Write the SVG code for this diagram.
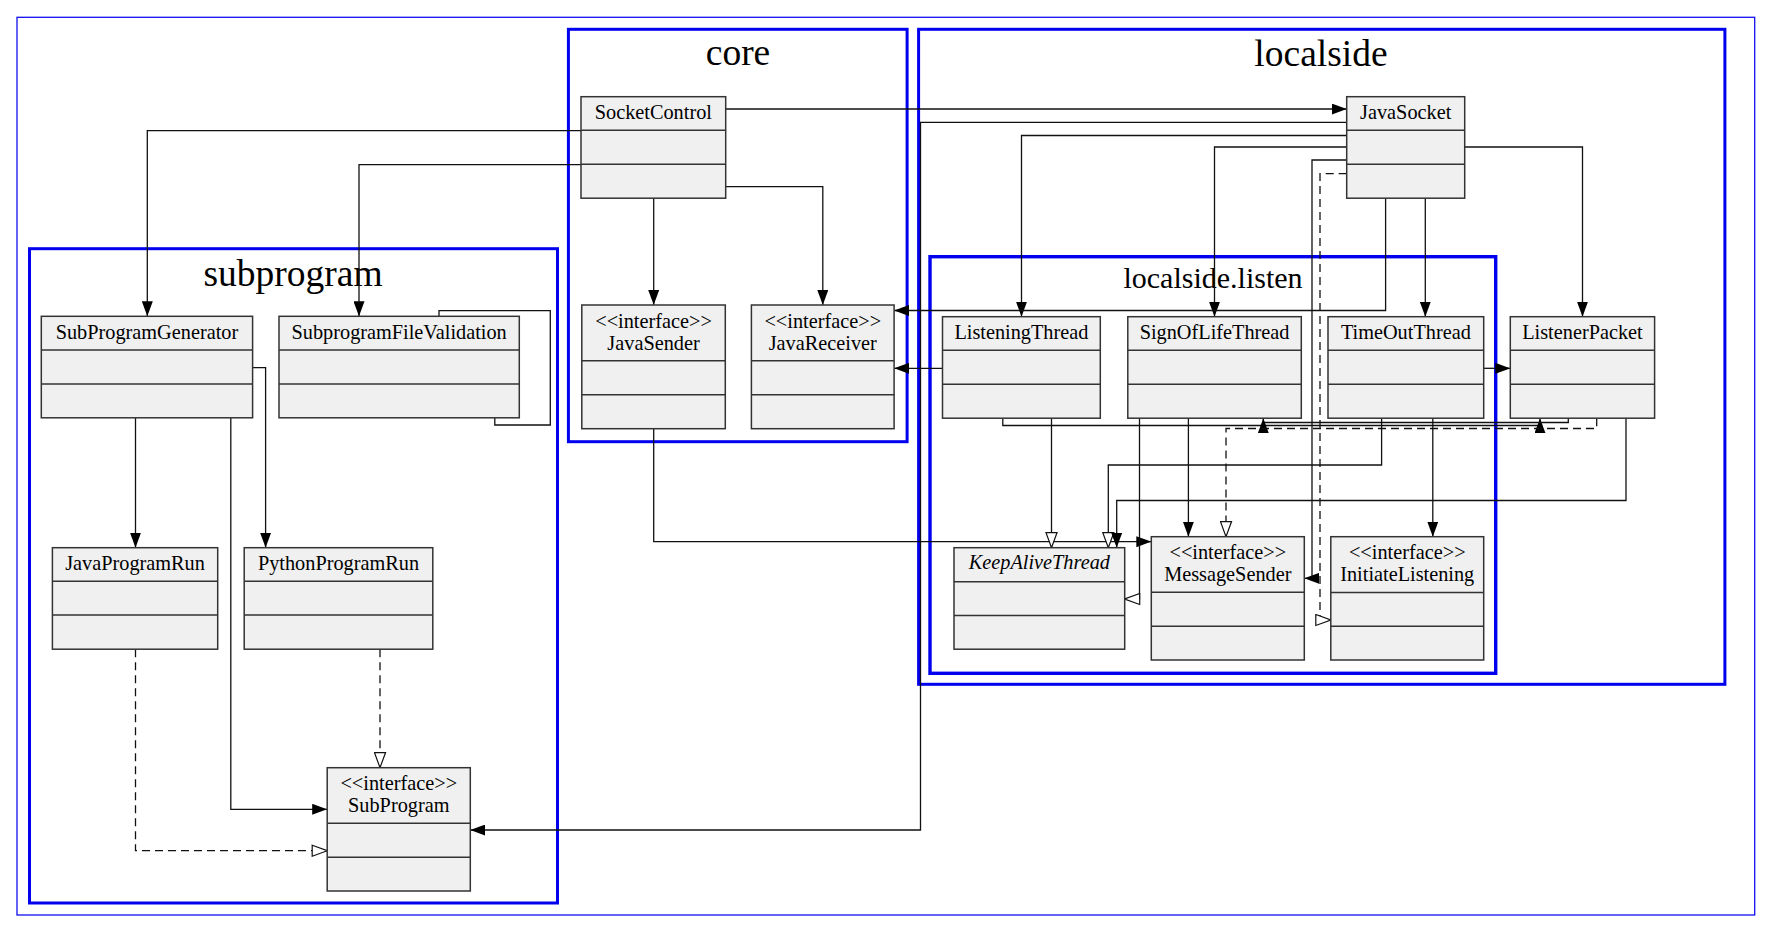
<svg xmlns="http://www.w3.org/2000/svg" width="1773" height="933" viewBox="0 0 1773 933">
  <style>
    .frame { fill: none; stroke: #1010f0; stroke-width: 1.3; }
    .cluster { fill: none; stroke: #0000ee; stroke-width: 3; }
    .cluster.inner { stroke-width: 3.4; }
    .clabel { font-family: "Liberation Serif", "Times New Roman", serif; font-size: 37.5px; fill: #000; text-anchor: middle; }
    .clabel.sub { font-size: 30px; }
    .node rect { fill: #f0f0f0; stroke: #333; stroke-width: 1.5; }
    .node line { stroke: #333; stroke-width: 1.5; }
    .node text { font-family: "Liberation Serif", "Times New Roman", serif; font-size: 20.3px; fill: #000; text-anchor: middle; }
    .node text.abstract { font-style: italic; }
    .edge { fill: none; stroke: #111; stroke-width: 1.3; }
    .edge.assoc { marker-end: url(#filled); }
    .edge.inherit { marker-end: url(#hollow); }
    .edge.realize { stroke-dasharray: 8 5; marker-end: url(#hollow); }
  </style>
  <defs>
    <marker id="filled" viewBox="0 0 15 11" refX="15" refY="5.5" markerWidth="15" markerHeight="11" markerUnits="userSpaceOnUse" orient="auto">
      <path d="M0,0 L15,5.5 L0,11 z" fill="#000"/>
    </marker>
    <marker id="hollow" viewBox="-1 -1 17 13" refX="15" refY="5.5" markerWidth="17" markerHeight="13" markerUnits="userSpaceOnUse" orient="auto">
      <path d="M0,0 L15,5.5 L0,11 z" fill="#fff" stroke="#111" stroke-width="1.2"/>
    </marker>
  </defs>

  <rect width="1773" height="933" fill="#fff"/>

  <!-- package frames -->
  <g id="packages">
    <rect class="frame" x="17" y="17.3" width="1737.7" height="897.7"/>
    <rect class="cluster" x="29.5" y="248.7" width="528" height="654.3"/>
    <text class="clabel" x="293" y="286">subprogram</text>
    <rect class="cluster" x="568.4" y="29.3" width="338.7" height="412.4"/>
    <text class="clabel" x="738" y="65">core</text>
    <rect class="cluster" x="918.6" y="29.3" width="806.3" height="655"/>
    <text class="clabel" x="1321" y="65.7">localside</text>
    <rect class="cluster inner" x="930" y="256.7" width="565.7" height="416.6"/>
    <text class="clabel sub" x="1213" y="288.3">localside.listen</text>
  </g>

  <!-- relations -->
  <g id="connectors">
    <!-- core -->
    <path class="edge assoc" d="M725.7,109 H1346.7"/>
    <path class="edge assoc" d="M581,130.7 H147.3 V316.3"/>
    <path class="edge assoc" d="M581,164.7 H359 V316.3"/>
    <path class="edge assoc" d="M653.7,198.2 V305"/>
    <path class="edge assoc" d="M725.7,186.7 H822.8 V305"/>
    <path class="edge assoc" d="M653.7,428.7 V541.7 H1151.3"/>
    <!-- localside -->
    <path class="edge assoc" d="M1346.7,122.3 H920.5 V830 H470.3"/>
    <path class="edge assoc" d="M1346.7,135.5 H1021.5 V316.7"/>
    <path class="edge assoc" d="M1346.7,147 H1214.5 V316.7"/>
    <path class="edge assoc" d="M1346.7,160 H1312 V578.3 H1304.3"/>
    <path class="edge realize" d="M1346.7,173.7 H1320 V620 H1330.8"/>
    <path class="edge assoc" d="M1385.6,198.2 V310.5 H894.1"/>
    <path class="edge assoc" d="M1425.3,198.2 V316.7"/>
    <path class="edge assoc" d="M1464.7,147 H1582.5 V316.7"/>
    <!-- localside.listen -->
    <path class="edge assoc" d="M942.5,368.3 H894.1"/>
    <path class="edge inherit" d="M1051.5,418.2 V547.7"/>
    <path class="edge assoc" d="M1002.8,418.2 V425.5 H1540 V418.2"/>
    <path class="edge assoc" d="M1568.3,418.2 V422.5 H1263.3 V418.2"/>
    <path class="edge realize" d="M1596.7,418.2 V428.5 H1226 V536.7"/>
    <path class="edge assoc" d="M1188.4,418.2 V536.7"/>
    <path class="edge inherit" d="M1139.5,418.2 V599 H1124.7"/>
    <path class="edge inherit" d="M1381.6,418.2 V465 H1108.3 V547.7"/>
    <path class="edge assoc" d="M1626,418.2 V500.5 H1116.7 V547.7"/>
    <path class="edge assoc" d="M1432.8,418.2 V536.7"/>
    <path class="edge assoc" d="M1483.7,368.3 H1510.3"/>
    <!-- subprogram -->
    <path class="edge" d="M439,316.3 V310.7 H550.3 V425 H494.8 V417.8"/>
    <path class="edge assoc" d="M135.5,417.8 V547.7"/>
    <path class="edge assoc" d="M252.6,367.7 H265.6 V547.7"/>
    <path class="edge assoc" d="M230.8,417.8 V809.3 H327.2"/>
    <path class="edge realize" d="M135.5,649.2 V850.7 H327.2"/>
    <path class="edge realize" d="M380,649.2 V767.7"/>
  </g>

  <!-- core classes -->
  <g id="SocketControl" class="node">
    <rect x="581" y="96.7" width="144.7" height="101.5"/>
    <line x1="581" y1="130.2" x2="725.7" y2="130.2"/>
    <line x1="581" y1="164.2" x2="725.7" y2="164.2"/>
    <text x="653.35" y="119">SocketControl</text>
  </g>
  <g id="JavaSender" class="node">
    <rect x="581.8" y="305" width="143.5" height="123.7"/>
    <line x1="581.8" y1="360.7" x2="725.3" y2="360.7"/>
    <line x1="581.8" y1="394.7" x2="725.3" y2="394.7"/>
    <text x="653.55" y="327.5">&lt;&lt;interface&gt;&gt;</text>
    <text x="653.55" y="349.5">JavaSender</text>
  </g>
  <g id="JavaReceiver" class="node">
    <rect x="751.4" y="305" width="142.7" height="123.7"/>
    <line x1="751.4" y1="360.7" x2="894.1" y2="360.7"/>
    <line x1="751.4" y1="394.7" x2="894.1" y2="394.7"/>
    <text x="822.75" y="327.5">&lt;&lt;interface&gt;&gt;</text>
    <text x="822.75" y="349.5">JavaReceiver</text>
  </g>

  <!-- localside classes -->
  <g id="JavaSocket" class="node">
    <rect x="1346.7" y="96.7" width="118" height="101.5"/>
    <line x1="1346.7" y1="130.2" x2="1464.7" y2="130.2"/>
    <line x1="1346.7" y1="164.2" x2="1464.7" y2="164.2"/>
    <text x="1405.7" y="119">JavaSocket</text>
  </g>
  <g id="ListenerPacket" class="node">
    <rect x="1510.3" y="316.7" width="144.3" height="101.5"/>
    <line x1="1510.3" y1="350.2" x2="1654.6" y2="350.2"/>
    <line x1="1510.3" y1="384.2" x2="1654.6" y2="384.2"/>
    <text x="1582.45" y="339">ListenerPacket</text>
  </g>

  <!-- localside.listen classes -->
  <g id="ListeningThread" class="node">
    <rect x="942.5" y="316.7" width="157.8" height="101.5"/>
    <line x1="942.5" y1="350.2" x2="1100.3" y2="350.2"/>
    <line x1="942.5" y1="384.2" x2="1100.3" y2="384.2"/>
    <text x="1021.4" y="339">ListeningThread</text>
  </g>
  <g id="SignOfLifeThread" class="node">
    <rect x="1127.8" y="316.7" width="173.5" height="101.5"/>
    <line x1="1127.8" y1="350.2" x2="1301.3" y2="350.2"/>
    <line x1="1127.8" y1="384.2" x2="1301.3" y2="384.2"/>
    <text x="1214.55" y="339">SignOfLifeThread</text>
  </g>
  <g id="TimeOutThread" class="node">
    <rect x="1328" y="316.7" width="155.7" height="101.5"/>
    <line x1="1328" y1="350.2" x2="1483.7" y2="350.2"/>
    <line x1="1328" y1="384.2" x2="1483.7" y2="384.2"/>
    <text x="1405.85" y="339">TimeOutThread</text>
  </g>
  <g id="KeepAliveThread" class="node">
    <rect x="954" y="547.7" width="170.7" height="101.5"/>
    <line x1="954" y1="581.7" x2="1124.7" y2="581.7"/>
    <line x1="954" y1="615.4" x2="1124.7" y2="615.4"/>
    <text class="abstract" x="1039.35" y="569">KeepAliveThread</text>
  </g>
  <g id="MessageSender" class="node">
    <rect x="1151.3" y="536.7" width="153" height="123.3"/>
    <line x1="1151.3" y1="592.3" x2="1304.3" y2="592.3"/>
    <line x1="1151.3" y1="626.3" x2="1304.3" y2="626.3"/>
    <text x="1227.8" y="558.8">&lt;&lt;interface&gt;&gt;</text>
    <text x="1227.8" y="580.5">MessageSender</text>
  </g>
  <g id="InitiateListening" class="node">
    <rect x="1330.8" y="536.7" width="152.9" height="123.3"/>
    <line x1="1330.8" y1="592.5" x2="1483.7" y2="592.5"/>
    <line x1="1330.8" y1="626.3" x2="1483.7" y2="626.3"/>
    <text x="1407.25" y="558.8">&lt;&lt;interface&gt;&gt;</text>
    <text x="1407.25" y="580.5">InitiateListening</text>
  </g>

  <!-- subprogram classes -->
  <g id="SubProgramGenerator" class="node">
    <rect x="41.3" y="316.3" width="211.3" height="101.5"/>
    <line x1="41.3" y1="350" x2="252.6" y2="350"/>
    <line x1="41.3" y1="384" x2="252.6" y2="384"/>
    <text x="146.95" y="338.6">SubProgramGenerator</text>
  </g>
  <g id="SubprogramFileValidation" class="node">
    <rect x="279" y="316.3" width="240.3" height="101.5"/>
    <line x1="279" y1="350" x2="519.3" y2="350"/>
    <line x1="279" y1="384" x2="519.3" y2="384"/>
    <text x="399.15" y="338.6">SubprogramFileValidation</text>
  </g>
  <g id="JavaProgramRun" class="node">
    <rect x="52.4" y="547.7" width="165.3" height="101.5"/>
    <line x1="52.4" y1="581.3" x2="217.7" y2="581.3"/>
    <line x1="52.4" y1="615" x2="217.7" y2="615"/>
    <text x="135.05" y="570">JavaProgramRun</text>
  </g>
  <g id="PythonProgramRun" class="node">
    <rect x="244.2" y="547.7" width="188.6" height="101.5"/>
    <line x1="244.2" y1="581.3" x2="432.8" y2="581.3"/>
    <line x1="244.2" y1="615" x2="432.8" y2="615"/>
    <text x="338.5" y="570">PythonProgramRun</text>
  </g>
  <g id="SubProgram" class="node">
    <rect x="327.2" y="767.7" width="143.1" height="123.3"/>
    <line x1="327.2" y1="823.3" x2="470.3" y2="823.3"/>
    <line x1="327.2" y1="857.3" x2="470.3" y2="857.3"/>
    <text x="398.75" y="790">&lt;&lt;interface&gt;&gt;</text>
    <text x="398.75" y="812">SubProgram</text>
  </g>
</svg>
